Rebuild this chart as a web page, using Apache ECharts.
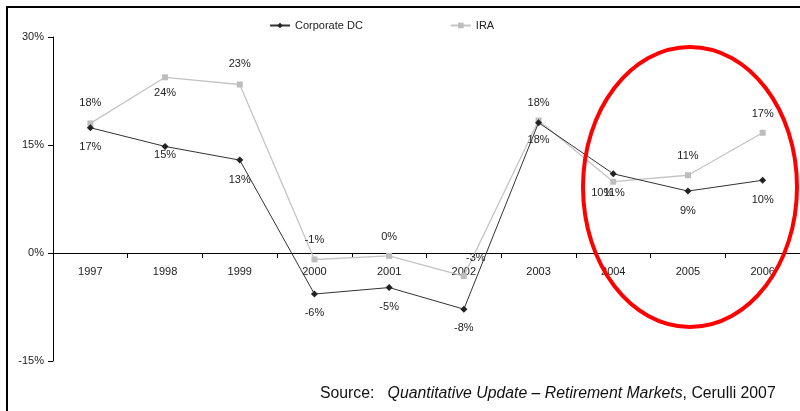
<!DOCTYPE html>
<html>
<head>
<meta charset="utf-8">
<script src="https://cdn.jsdelivr.net/npm/echarts@6/dist/echarts.min.js"></script>
<style>
  html, body { margin: 0; padding: 0; background: #fff; }
  #chart { width: 800px; height: 411px; }
</style>
</head>
<body>
<div id="chart"></div>
<script>
// Annual returns (%) by plan type
const years = ['1997', '1998', '1999', '2000', '2001', '2002', '2003', '2004', '2005', '2006'];
const corporateDC = [17.4, 14.8, 12.9, -5.7, -4.8, -7.8, 18.1, 11.0, 8.6, 10.1];
const ira = [18.0, 24.4, 23.4, -0.9, -0.4, -3.2, 18.4, 9.9, 10.8, 16.7];
const yTicks = [-15, 0, 15, 30];

// label placement offsets [dx, dy] from each marker
const dcLabelOffsets = [[0, 19], [0, 9], [0, 20], [0, 19], [0, 19], [0, 19], [0, 17], [1, 19], [0, 20], [0, 20]];
const iraLabelOffsets = [[0, -20], [0, 16], [0, -21], [0, -20], [0, -19], [12, -18], [0, -18], [-11, 11], [0, -19], [0, -19]];

const FONT = '"Liberation Sans", Arial, sans-serif';
const FS = 11;
const pct = v => Math.round(v) + '%';

function withLabels(values, offsets) {
  return values.map((v, i) => ({
    value: v,
    label: { position: 'inside', offset: offsets[i] }
  }));
}

const chart = echarts.init(document.getElementById('chart'), null, { renderer: 'canvas' });

chart.setOption({
  animation: false,
  backgroundColor: '#fff',
  textStyle: { fontFamily: FONT },
  grid: { left: 53, right: -3, top: 37, bottom: 50, containLabel: false },
  legend: {
    left: 264,
    top: 15,
    itemWidth: 20,
    itemHeight: 7,
    itemGap: 87,
    textStyle: { fontFamily: FONT, fontSize: FS, color: '#222' },
    data: ['Corporate DC', 'IRA']
  },
  xAxis: [
    {
      // axis line on the zero level, ticks between categories
      type: 'category',
      data: years,
      boundaryGap: true,
      axisLine: { onZero: true, lineStyle: { color: '#000', width: 1 } },
      axisTick: { show: true, length: 5, lineStyle: { color: '#000' } },
      axisLabel: { show: false },
      splitLine: { show: false }
    },
    {
      // year labels sitting just under the zero line
      type: 'category',
      data: years,
      position: 'bottom',
      offset: -108,
      boundaryGap: true,
      axisLine: { show: false },
      axisTick: { show: false },
      axisLabel: { margin: 13, fontFamily: FONT, fontSize: FS, color: '#222' },
      splitLine: { show: false }
    }
  ],
  yAxis: {
    type: 'value',
    min: yTicks[0],
    max: yTicks[yTicks.length - 1],
    interval: 15,
    axisLine: { show: true, onZero: false, lineStyle: { color: '#000', width: 1 } },
    axisTick: { show: true, length: 5, lineStyle: { color: '#000' } },
    axisLabel: { margin: 9, fontFamily: FONT, fontSize: FS, color: '#222', formatter: v => v + '%' },
    splitLine: { show: false }
  },
  series: [
    {
      name: 'Corporate DC',
      type: 'line',
      xAxisIndex: 0,
      z: 4,
      data: withLabels(corporateDC, dcLabelOffsets),
      symbol: 'diamond',
      symbolSize: 7,
      itemStyle: { color: '#222' },
      lineStyle: { color: '#333', width: 1 },
      label: { show: true, formatter: p => pct(p.value), fontFamily: FONT, fontSize: FS, color: '#222' }
    },
    {
      name: 'IRA',
      type: 'line',
      xAxisIndex: 0,
      z: 3,
      data: withLabels(ira, iraLabelOffsets),
      symbol: 'rect',
      symbolSize: 6,
      itemStyle: { color: '#bdbdbd' },
      lineStyle: { color: '#c4c4c4', width: 1.3 },
      label: { show: true, formatter: p => pct(p.value), fontFamily: FONT, fontSize: FS, color: '#222' }
    }
  ],
  graphic: [
    {
      type: 'polyline',
      z: 10,
      shape: { points: [[7, 411], [7, 7], [800, 7]] },
      style: { stroke: '#000', lineWidth: 2, fill: null }
    },
    {
      type: 'ellipse',
      z: 20,
      shape: { cx: 690, cy: 187, rx: 107, ry: 140 },
      style: { stroke: '#ff0000', lineWidth: 4, fill: null }
    },
    {
      type: 'text',
      z: 10,
      left: 320,
      top: 386,
      style: {
        text: '{n|Source:   }{i|Quantitative Update – Retirement Markets}{n|, Cerulli 2007}',
        rich: {
          n: { fontFamily: FONT, fontSize: 15.8, fill: '#111' },
          i: { fontFamily: FONT, fontSize: 15.8, fontStyle: 'italic', fill: '#111' }
        }
      }
    }
  ]
});
</script>
</body>
</html>
